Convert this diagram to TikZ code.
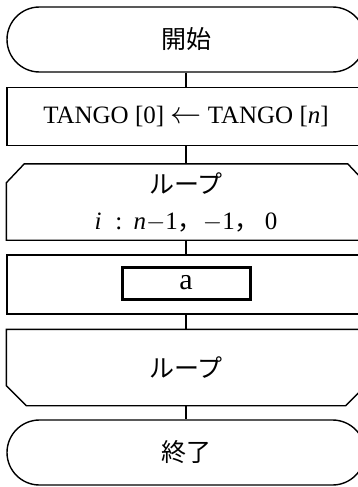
\documentclass[tikz,border=0pt]{standalone}
\usepackage{fontspec}
\setmainfont{Liberation Serif}
\newfontfamily\cjk{Noto Sans CJK JP}
\usetikzlibrary{shapes.misc}
\newcommand{\mminus}{\raisebox{0pt}{$-$}}
\begin{document}
\begin{tikzpicture}[x=1pt,y=-1pt,
  outline/.style={line width=1.4pt, inner sep=0pt, minimum width=358pt,
    font=\fontsize{25}{36}\selectfont, align=center},
  term/.style={outline, draw=black, rounded rectangle, minimum height=65pt},
  proc/.style={outline, draw=black, rectangle, minimum height=58pt},
  loopbox/.style={outline, rectangle, minimum height=75pt},
  inner/.style={draw=black, line width=3pt, inner sep=0pt, minimum width=128pt,
    minimum height=32pt, font=\fontsize{30}{32}\selectfont},
  link/.style={draw=black, line width=1.4pt},
  edge/.style={draw=black, line width=1.4pt, line join=miter}
]
\useasboundingbox (0,0) rectangle (358,487);
\node[term] (start) at (186,39.5) {\cjk 開始};
\node[proc] (tango) at (186,116.5) {TANGO [0] \raisebox{0.5pt}{\scalebox{1.25}{$\leftarrow$}} TANGO [\textit{n}]};
\node[loopbox] (ls) at (186,202) {{\cjk ループ}\\\textit{i}\hspace{0.55em}:\hspace{0.45em}\textit{n}\mminus1{\cjk ，}\mminus1{\cjk ，}\hspace{0.2em}0};
\draw[edge] ([xshift=18pt]ls.north west) -- ([xshift=-18pt]ls.north east)
  -- ([yshift=-19pt]ls.north east) -- (ls.south east) -- (ls.south west)
  -- ([yshift=-19pt]ls.north west) -- cycle;
\node[proc, minimum height=59pt] (body) at (186,284.5) {};
\node[inner] (a) at (186,283) {a};
\node[loopbox] (le) at (186,367.5) {\cjk ループ};
\draw[edge] (le.north west) -- (le.north east) -- ([yshift=20pt]le.south east)
  -- ([xshift=-20pt]le.south east) -- ([xshift=20pt]le.south west)
  -- ([yshift=20pt]le.south west) -- cycle;
\node[term] (stop) at (186,452.5) {\cjk 終了};
\draw[link] (start.south) -- (tango.north);
\draw[link] (tango.south) -- (ls.north);
\draw[link] (ls.south) -- (body.north);
\draw[link] (body.south) -- (le.north);
\draw[link] (le.south) -- (stop.north);
\end{tikzpicture}
\end{document}
